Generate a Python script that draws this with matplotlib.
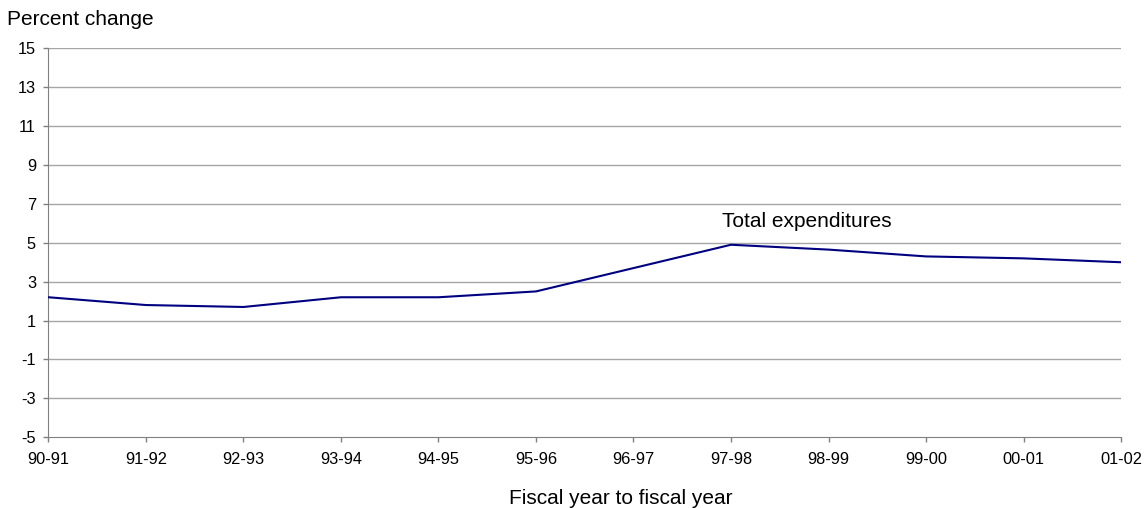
import matplotlib.pyplot as plt

plt.rcParams['font.family'] = ['Liberation Sans', 'DejaVu Sans']
plt.rcParams['axes.unicode_minus'] = False

years = ['90-91', '91-92', '92-93', '93-94', '94-95', '95-96',
         '96-97', '97-98', '98-99', '99-00', '00-01', '01-02']
total_exp = [2.2, 1.8, 1.7, 2.2, 2.2, 2.5, 3.7, 4.9, 4.65, 4.3, 4.2, 4.0]
y_ticks = list(range(-5, 16, 2))

fig = plt.figure(figsize=(11.46, 5.08), dpi=100)
ax = fig.add_axes([0.0423, 0.1392, 0.9359, 0.7657])

x = list(range(len(years)))
ax.plot(x, total_exp, color='#000080', linewidth=1.5, zorder=3)

ax.set_xlim(0, len(years) - 1)
ax.set_ylim(-5, 15)
ax.set_yticks(y_ticks)
ax.set_xticks(x)
ax.set_xticklabels(years)
ax.tick_params(axis='both', labelsize=11.8, color='#808080', length=3.5, width=1)
ax.tick_params(axis='x', pad=7)
ax.tick_params(axis='y', pad=5.5)

for y in y_ticks[1:]:
    ax.axhline(y, color='#a6a6a6', linewidth=1, zorder=1)

ax.spines['top'].set_visible(False)
ax.spines['right'].set_visible(False)
ax.spines['left'].set_color('#808080')
ax.spines['bottom'].set_color('#808080')

ax.text(6.91, 5.81, 'Total expenditures', fontsize=15, ha='left', va='baseline')
fig.text(0.006, 0.951, 'Percent change', fontsize=15, ha='left', va='baseline')
fig.text(0.542, 0.008, 'Fiscal year to fiscal year', fontsize=15, ha='center', va='baseline')

fig.savefig('out.png', dpi=100)
